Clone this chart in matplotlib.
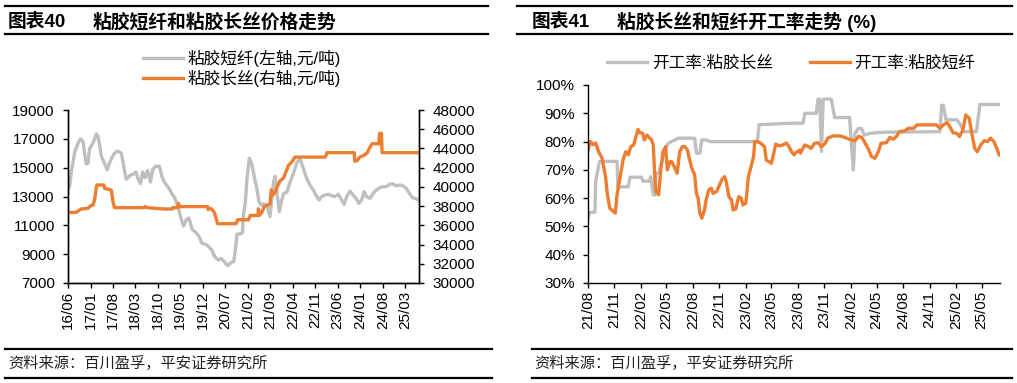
import pandas as pd
import matplotlib
matplotlib.use("Agg")
import matplotlib.pyplot as plt
import matplotlib.dates as mdates
from matplotlib.lines import Line2D
from matplotlib.ticker import FuncFormatter

plt.rcParams['font.family'] = ['Liberation Sans', 'Noto Sans CJK SC']
plt.rcParams['axes.unicode_minus'] = False

# 图表40 数据：粘胶短纤(左轴) 与 粘胶长丝(右轴)，元/吨
short_dates = [
    "2016-06-01", "2016-06-16", "2016-07-07", "2016-08-04", "2016-09-04", "2016-09-28",
    "2016-10-22", "2016-11-07", "2016-11-22", "2016-12-07", "2016-12-22", "2017-01-16",
    "2017-02-04", "2017-02-25", "2017-03-10", "2017-03-25", "2017-04-13", "2017-05-07",
    "2017-06-07", "2017-06-28", "2017-07-22", "2017-08-16", "2017-09-16", "2017-10-19",
    "2017-11-13", "2017-12-04", "2018-01-07", "2018-02-07", "2018-03-07", "2018-03-28",
    "2018-04-19", "2018-05-10", "2018-06-01", "2018-06-25", "2018-07-22", "2018-08-13",
    "2018-09-13", "2018-10-16", "2018-11-07", "2018-12-01", "2019-01-10", "2019-02-10",
    "2019-03-10", "2019-04-13", "2019-05-07", "2019-06-01", "2019-06-28", "2019-07-22",
    "2019-08-22", "2019-09-28", "2019-10-28", "2019-11-22", "2019-12-22", "2020-01-22",
    "2020-02-22", "2020-03-25", "2020-04-25", "2020-05-25", "2020-06-28", "2020-07-22",
    "2020-08-22", "2020-09-19", "2020-10-07", "2020-10-19", "2020-11-19", "2020-12-10",
    "2020-12-19", "2021-01-07", "2021-01-22", "2021-02-13", "2021-03-07", "2021-04-04",
    "2021-04-25", "2021-05-16", "2021-06-04", "2021-06-28", "2021-07-28", "2021-08-28",
    "2021-09-16", "2021-10-01", "2021-10-16", "2021-11-04", "2021-11-25", "2021-12-13",
    "2022-01-04", "2022-02-04", "2022-03-07", "2022-04-07", "2022-05-07", "2022-06-07",
    "2022-07-10", "2022-08-10", "2022-09-10", "2022-10-13", "2022-11-13", "2022-12-07",
    "2023-01-01", "2023-02-01", "2023-03-04", "2023-04-04", "2023-05-04", "2023-06-07",
    "2023-07-07", "2023-08-01", "2023-08-25", "2023-09-25", "2023-10-25", "2023-11-25",
    "2023-12-19", "2024-01-13", "2024-02-07", "2024-02-28", "2024-04-01", "2024-05-01",
    "2024-06-01", "2024-07-04", "2024-08-04", "2024-09-04", "2024-10-04", "2024-11-07",
    "2024-12-07", "2025-01-07", "2025-02-10", "2025-03-10", "2025-04-10", "2025-05-10",
    "2025-06-28", "2025-07-10",
]
short_price = [
    13500, 13700, 14900, 16100, 16700, 17000,
    16800, 15900, 15250, 15300, 16300, 16600,
    16900, 17350, 17200, 16700, 15800, 15400,
    14850, 15300, 15700, 16000, 16150, 16000,
    15000, 14200, 14450, 14550, 14700, 14200,
    13900, 14700, 14300, 14800, 14000, 14900,
    15100, 15100, 14400, 14000, 13600, 13200,
    12900, 12200, 11500, 10950, 11400, 11500,
    10700, 10500, 10200, 9750, 9700, 9550,
    9300, 8800, 8600, 8700, 8400, 8200,
    8400, 8500, 9500, 10400, 10400, 10500,
    11700, 12640, 14260, 15650, 15300, 14260,
    13570, 12640, 12400, 12500, 12400, 11600,
    12900, 14030, 14400, 13100, 11950, 12640,
    13200, 13300, 14030, 14600, 15300, 15650,
    14950, 14260, 13800, 13450, 13000, 12760,
    13000, 13100, 13150, 13060, 12990, 13150,
    12760, 12450, 13000, 13380, 13100, 12830,
    12520, 12760, 13330, 12990, 12870, 13220,
    13450, 13610, 13680, 13680, 13845, 13870,
    13740, 13800, 13740, 13570, 13220, 12920,
    12800, 12780,
]

long_dates = [
    "2016-06-01", "2016-08-19", "2016-09-04", "2016-10-04", "2016-12-07", "2017-01-01",
    "2017-01-25", "2017-02-10", "2017-02-25", "2017-03-04", "2017-05-07", "2017-05-13",
    "2017-07-16", "2017-08-01", "2017-08-16", "2018-05-25", "2018-06-01", "2018-06-20",
    "2018-12-01", "2019-02-16", "2019-02-19", "2019-04-07", "2019-04-13", "2019-04-22",
    "2020-01-16", "2020-01-19", "2020-02-16", "2020-03-16", "2020-04-04", "2020-04-19",
    "2020-10-10", "2020-10-25", "2021-02-07", "2021-02-22", "2021-05-07", "2021-05-10",
    "2021-05-19", "2021-06-13", "2021-07-07", "2021-07-28", "2021-08-28", "2021-09-10",
    "2021-09-19", "2021-10-16", "2021-11-10", "2021-12-04", "2022-01-04", "2022-01-19",
    "2022-02-19", "2022-03-22", "2022-04-22", "2023-02-04", "2023-02-19", "2023-11-04",
    "2023-11-10", "2023-12-04", "2023-12-25", "2024-02-04", "2024-03-07", "2024-03-28",
    "2024-04-22", "2024-06-25", "2024-07-01", "2024-07-19", "2024-07-25", "2025-07-10",
]
long_price = [
    37350, 37350, 37490, 37700, 37760, 38040,
    38100, 38800, 40000, 40200, 40200, 39850,
    39680, 38460, 37840, 37840, 37950, 37840,
    37700, 37700, 37840, 37840, 38300, 37950,
    37950, 37650, 37750, 37400, 36750, 36170,
    36170, 36580, 36580, 37030, 37030, 37720,
    37030, 37370, 38000, 38050, 38230, 39700,
    39100, 39460, 40150, 40670, 40920, 41370,
    42240, 42580, 43100, 43100, 43560, 43560,
    42660, 42760, 43100, 43270, 43560, 44040,
    44490, 44490, 45570, 45570, 43560, 43560,
]

# 图表41 数据：开工率 (%)
fil_rate_dates = [
    "2021-08-01", "2021-08-07", "2021-08-25", "2021-08-28", "2021-09-10", "2021-11-10",
    "2021-11-13", "2021-12-19", "2021-12-25", "2022-02-04", "2022-02-07", "2022-03-04",
    "2022-03-07", "2022-03-16", "2022-03-22", "2022-03-25", "2022-04-04", "2022-04-13",
    "2022-04-25", "2022-05-07", "2022-05-19", "2022-06-04", "2022-06-10", "2022-08-07",
    "2022-08-13", "2022-08-25", "2022-09-01", "2022-09-16", "2022-09-28", "2023-03-13",
    "2023-03-19", "2023-07-19", "2023-08-19", "2023-08-25", "2023-10-04", "2023-10-10",
    "2023-10-16", "2023-10-22", "2023-10-28", "2023-11-25", "2023-12-07", "2024-01-28",
    "2024-02-04", "2024-02-10", "2024-02-16", "2024-02-28", "2024-03-10", "2024-03-19",
    "2024-04-07", "2024-05-22", "2024-12-07", "2024-12-13", "2024-12-19", "2024-12-28",
    "2025-02-04", "2025-02-16", "2025-02-28", "2025-04-13", "2025-04-25", "2025-07-04",
]
fil_rate = [
    53, 55, 55, 66, 73, 73,
    64, 64, 67.4, 67.4, 66, 66,
    67.6, 61.2, 61.2, 68.8, 68.8, 72.3,
    77, 79.4, 80, 80.8, 81.2, 81.2,
    75.9, 75.9, 80.6, 80.6, 80, 80,
    86, 86.5, 86.5, 90, 90, 95,
    95, 76.5, 95, 95, 88.5, 88.5,
    78, 70, 83, 84.7, 84.5, 82.3,
    82.9, 83.3, 83.5, 92.8, 92.8, 87.7,
    87.7, 86, 83.5, 83.5, 93.1, 93.1,
]

staple_rate_dates = [
    "2021-08-01", "2021-08-10", "2021-08-19", "2021-08-28", "2021-09-07", "2021-09-19",
    "2021-10-01", "2021-10-07", "2021-10-16", "2021-10-28", "2021-11-04", "2021-11-10",
    "2021-11-13", "2021-11-19", "2021-11-25", "2021-12-01", "2021-12-10", "2021-12-19",
    "2021-12-28", "2022-01-07", "2022-01-13", "2022-01-22", "2022-01-28", "2022-02-07",
    "2022-02-13", "2022-02-22", "2022-03-01", "2022-03-10", "2022-03-16", "2022-03-22",
    "2022-03-25", "2022-04-04", "2022-04-10", "2022-04-19", "2022-04-28", "2022-05-04",
    "2022-05-13", "2022-05-19", "2022-05-28", "2022-06-07", "2022-06-16", "2022-06-25",
    "2022-07-04", "2022-07-13", "2022-07-19", "2022-07-28", "2022-08-07", "2022-08-13",
    "2022-08-19", "2022-08-25", "2022-09-01", "2022-09-10", "2022-09-16", "2022-09-25",
    "2022-10-04", "2022-10-10", "2022-10-22", "2022-11-01", "2022-11-10", "2022-11-19",
    "2022-11-25", "2022-12-04", "2022-12-13", "2022-12-19", "2022-12-28", "2023-01-07",
    "2023-01-16", "2023-01-22", "2023-02-01", "2023-02-10", "2023-02-19", "2023-02-28",
    "2023-03-04", "2023-03-13", "2023-03-25", "2023-04-07", "2023-04-13", "2023-04-22",
    "2023-05-01", "2023-05-10", "2023-05-16", "2023-05-28", "2023-06-10", "2023-06-22",
    "2023-07-01", "2023-07-10", "2023-07-19", "2023-07-25", "2023-08-07", "2023-08-10",
    "2023-08-25", "2023-09-07", "2023-09-16", "2023-09-28", "2023-10-10", "2023-10-22",
    "2023-11-04", "2023-11-13", "2023-12-01", "2023-12-25", "2024-01-10", "2024-01-28",
    "2024-02-16", "2024-02-28", "2024-03-10", "2024-03-19", "2024-04-01", "2024-04-13",
    "2024-04-25", "2024-05-07", "2024-05-16", "2024-06-04", "2024-06-16", "2024-06-28",
    "2024-07-10", "2024-07-19", "2024-08-07", "2024-08-19", "2024-09-07", "2024-09-19",
    "2024-11-25", "2024-12-07", "2024-12-19", "2025-01-01", "2025-01-10", "2025-01-22",
    "2025-02-04", "2025-02-13", "2025-02-25", "2025-03-07", "2025-03-19", "2025-03-28",
    "2025-04-07", "2025-04-16", "2025-04-28", "2025-05-10", "2025-05-22", "2025-06-01",
    "2025-06-13", "2025-06-25", "2025-07-01",
]
staple_rate = [
    77, 80, 78.9, 79.5, 76.4, 74.1,
    67.6, 61.7, 56.4, 55.3, 54.7, 61.2,
    62.9, 66.4, 70, 73.5, 76.4, 75.3,
    78.2, 78.8, 81.1, 84.3, 83.1, 83,
    80.6, 82.3, 81.5, 80.6, 78.8, 66.4,
    62.3, 61.2, 68.8, 76.4, 78.2, 70,
    72.9, 72.9, 71.1, 68.8, 76.4, 78.2,
    78.2, 77, 74.1, 70.6, 68.2, 61.7,
    60, 54.7, 52.9, 55.8, 59.4, 62.9,
    63.5, 61.7, 62.3, 64.6, 66.6, 67.6,
    65.8, 60.5, 59.4, 55.8, 56.2, 60.5,
    60, 57.6, 58.2, 67.6, 71.1, 74.7,
    80, 80, 79.4, 78.2, 73.5, 72.9,
    72.3, 76.4, 79.1, 78.5, 78.8, 79.5,
    78.2, 76.4, 75.3, 76.1, 77, 75.9,
    78.8, 78.2, 77.6, 79.4, 79.6, 78.2,
    79.4, 81.2, 82, 82, 81.5, 80.8,
    80.3, 81.8, 81.5, 80, 77.6, 74.7,
    74.1, 76.4, 79.4, 79.6, 81.5, 80.8,
    82, 83.5, 83.8, 84.7, 84.7, 85.9,
    85.9, 84.7, 85.9, 86.7, 85.3, 83.1,
    82.9, 81.8, 84.1, 89.4, 88.2, 82.9,
    77.6, 76.4, 78.8, 80.3, 80, 81.2,
    80, 77, 75.3,
]

GREY = "#BFBFBF"
ORANGE = "#ED7D31"
W, H = 1017, 383

fig = plt.figure(figsize=(W / 100, H / 100), dpi=100)


def fx(px):
    return px / W


def fy(px):
    return 1 - px / H


def rule(x0, x1, y, lw=1.6):
    fig.add_artist(Line2D([fx(x0), fx(x1)], [fy(y), fy(y)], color="black", lw=lw))


def style_axis(ax):
    ax.tick_params(axis="both", direction="out", length=3.5, width=1,
                   labelsize=11, color="black")
    ax.tick_params(axis="y", pad=6)
    ax.tick_params(axis="x", pad=2, labelrotation=90)
    for s in ax.spines.values():
        s.set_linewidth(1)


# ---------- 左图 ----------
ax1 = fig.add_axes([fx(68), fy(283), fx(419 - 68), (283 - 110) / H])
ax1.plot(pd.to_datetime(short_dates), short_price, color=GREY, lw=2.4)
ax1.set_ylim(7000, 19000)
ax1.set_yticks(range(7000, 19001, 2000))
ax1.set_xlim(pd.Timestamp("2016-06-01"), pd.Timestamp("2025-07-10"))
ax1.set_xticks(pd.date_range("2016-06-01", "2025-03-01", freq="7MS"))
ax1.xaxis.set_major_formatter(mdates.DateFormatter("%y/%m"))
ax1.spines["top"].set_visible(False)
style_axis(ax1)

ax1r = ax1.twinx()
ax1r.plot(pd.to_datetime(long_dates), long_price, color=ORANGE, lw=2.4)
ax1r.set_ylim(30000, 48000)
ax1r.set_yticks(range(30000, 48001, 2000))
ax1r.spines["top"].set_visible(False)
style_axis(ax1r)

fig.legend([Line2D([], [], color=GREY, lw=2.4), Line2D([], [], color=ORANGE, lw=2.4)],
           ["粘胶短纤(左轴,元/吨)", "粘胶长丝(右轴,元/吨)"],
           loc="upper left", bbox_to_anchor=(fx(143), fy(50)), frameon=False,
           fontsize=12, handlelength=2.4, handletextpad=0.3, labelspacing=0.15,
           borderpad=0, borderaxespad=0)

# ---------- 右图 ----------
ax2 = fig.add_axes([fx(588), fy(283), fx(1000 - 588), (283 - 85) / H])
ax2.plot(pd.to_datetime(fil_rate_dates), fil_rate, color=GREY, lw=2.4,
         label="开工率:粘胶长丝")
ax2.plot(pd.to_datetime(staple_rate_dates), staple_rate, color=ORANGE, lw=2.4,
         label="开工率:粘胶短纤")
ax2.set_ylim(30, 100)
ax2.set_yticks(range(30, 101, 10))
ax2.yaxis.set_major_formatter(FuncFormatter(lambda v, p: f"{v:.0f}%"))
ax2.set_xlim(pd.Timestamp("2021-08-01"), pd.Timestamp("2025-07-04"))
ax2.set_xticks(pd.date_range("2021-08-01", "2025-05-01", freq="3MS"))
ax2.xaxis.set_major_formatter(mdates.DateFormatter("%y/%m"))
ax2.spines["top"].set_visible(False)
ax2.spines["right"].set_visible(False)
style_axis(ax2)
fig.legend(*ax2.get_legend_handles_labels(), loc="upper left",
           bbox_to_anchor=(fx(607), fy(55)), ncol=2, frameon=False, fontsize=12,
           handlelength=2.4, handletextpad=0.3, columnspacing=2.2,
           borderpad=0, borderaxespad=0)

# ---------- 标题与来源 ----------
tkw = dict(fontsize=13.5, fontweight="bold", va="center")
fig.text(fx(8), fy(22), "图表40", **tkw)
fig.text(fx(93), fy(22), "粘胶短纤和粘胶长丝价格走势", **tkw)
fig.text(fx(532), fy(22), "图表41", **tkw)
fig.text(fx(617), fy(22), "粘胶长丝和短纤开工率走势 (%)", **tkw)
rule(5, 488, 6)
rule(5, 488, 34)
rule(517, 1012, 6)
rule(517, 1012, 34)

skw = dict(fontsize=11, va="center", color="#222222")
fig.text(fx(8), fy(363), "资料来源：百川盈孚，平安证券研究所", **skw)
fig.text(fx(534), fy(363), "资料来源：百川盈孚，平安证券研究所", **skw)
rule(5, 492, 349)
rule(5, 492, 378)
rule(532, 1012, 349)
rule(532, 1012, 378)

fig.savefig("out.png", dpi=100)
